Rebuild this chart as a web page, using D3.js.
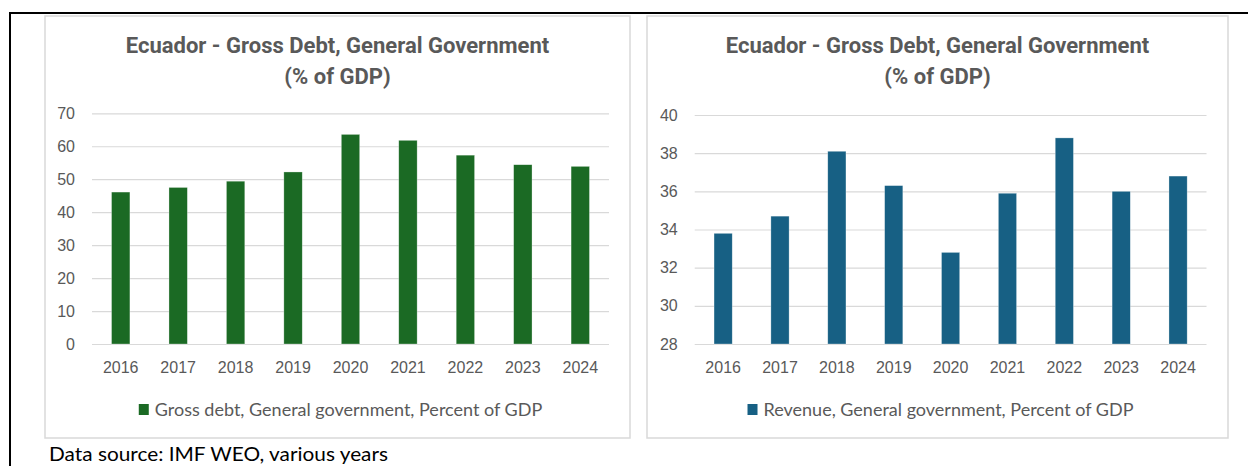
<!DOCTYPE html>
<html>
<head>
<meta charset="utf-8">
<script src="https://cdn.jsdelivr.net/npm/d3@7"></script>
<style>
  body { margin: 0; background: #fff; }
  svg { display: block; }
</style>
</head>
<body>
<svg id="chart" width="1248" height="466"></svg>
<script>
// Categories and series
const years = ["2016", "2017", "2018", "2019", "2020", "2021", "2022", "2023", "2024"];
const grossDebt = [46.1, 47.5, 49.4, 52.2, 63.6, 61.8, 57.3, 54.4, 53.9];
const revenue = [33.8, 34.7, 38.1, 36.3, 32.8, 35.9, 38.8, 36.0, 36.8];

// Axis ticks
const debtTicks = [0, 10, 20, 30, 40, 50, 60, 70];
const revenueTicks = [28, 30, 32, 34, 36, 38, 40];

// Text
const titleLines = ["Ecuador - Gross Debt, General Government", "(% of GDP)"];
const debtLegend = "Gross debt, General government, Percent of GDP";
const revenueLegend = "Revenue, General government, Percent of GDP";
const sourceNote = "Data source: IMF WEO, various years";

const svg = d3.select("#chart");
const textGray = "#595959";
const gridGray = "#d9d9d9";
const tickFont = "'Liberation Sans', Arial, sans-serif";
const titleFont = "Roboto, 'Liberation Sans', sans-serif";
const legendFont = "Lato, 'Open Sans', sans-serif";

// Outer frame (top and left rules)
svg.append("line").attr("x1", 9).attr("x2", 1248).attr("y1", 13).attr("y2", 13)
  .attr("stroke", "#000").attr("stroke-width", 2);
svg.append("line").attr("x1", 10).attr("x2", 10).attr("y1", 12).attr("y2", 466)
  .attr("stroke", "#000").attr("stroke-width", 2);

const panels = [
  { box: [45, 16, 630, 438], plot: [92, 113.3, 609, 344], domain: [0, 70], ticks: debtTicks,
    values: grossDebt, color: "#1b6a24", legend: debtLegend },
  { box: [647, 16, 1228, 438], plot: [694.7, 115, 1206.5, 344], domain: [28, 40], ticks: revenueTicks,
    values: revenue, color: "#176084", legend: revenueLegend }
];

panels.forEach(p => {
  const [bx0, by0, bx1, by1] = p.box;
  const [px0, py0, px1, py1] = p.plot;
  const cx = (bx0 + bx1) / 2;

  // Chart area frame
  svg.append("rect")
    .attr("x", bx0).attr("y", by0).attr("width", bx1 - bx0).attr("height", by1 - by0)
    .attr("fill", "#fff").attr("stroke", gridGray).attr("stroke-width", 1.5);

  const x = d3.scaleBand().domain(years).range([px0, px1]).paddingInner(0.68).paddingOuter(0.34);
  const y = d3.scaleLinear().domain(p.domain).range([py1, py0]);

  // Gridlines
  svg.append("g").attr("transform", `translate(${px0},0)`)
    .call(d3.axisLeft(y).tickValues(p.ticks).tickSize(-(px1 - px0)).tickFormat(""))
    .call(g => g.select(".domain").remove())
    .call(g => g.selectAll("line").attr("stroke", gridGray).attr("stroke-width", 1.2));

  // Y tick labels
  svg.append("g").attr("transform", `translate(${px0},0)`)
    .call(d3.axisLeft(y).tickValues(p.ticks).tickSize(0).tickPadding(17))
    .call(g => g.select(".domain").remove())
    .call(g => g.selectAll("text").attr("fill", textGray).attr("font-size", 16)
      .attr("font-family", tickFont));

  // Bars
  svg.append("g").selectAll("rect").data(p.values).join("rect")
    .attr("x", (d, i) => x(years[i]))
    .attr("width", x.bandwidth())
    .attr("y", d => y(d))
    .attr("height", d => y(p.domain[0]) - y(d))
    .attr("fill", p.color)
    .attr("stroke", "#ffffff").attr("stroke-opacity", 0.5).attr("stroke-width", 0.6);

  // X tick labels
  svg.append("g").attr("transform", `translate(0,${py1})`)
    .call(d3.axisBottom(x).tickSize(0).tickPadding(18))
    .call(g => g.select(".domain").remove())
    .call(g => g.selectAll("text").attr("fill", textGray).attr("font-size", 16)
      .attr("font-family", tickFont));

  // Title
  const title = svg.append("text").attr("text-anchor", "middle")
    .attr("font-family", titleFont).attr("font-weight", 700).attr("font-size", 22)
    .attr("fill", textGray);
  title.append("tspan").attr("x", cx).attr("y", 53).text(titleLines[0]);
  title.append("tspan").attr("x", cx).attr("y", 84).text(titleLines[1]);

  // Legend
  const lg = svg.append("g");
  const sw = 10, gap = 6;
  const lt = lg.append("text").attr("x", sw + gap).attr("y", 416)
    .attr("font-family", legendFont).attr("font-size", 18).attr("fill", textGray)
    .text(p.legend);
  lg.append("rect").attr("x", 0).attr("y", 404).attr("width", sw).attr("height", 11)
    .attr("fill", p.color);
  const w = sw + gap + lt.node().getComputedTextLength();
  lg.attr("transform", `translate(${cx + 3 - w / 2},0)`);
});

// Source note
svg.append("text").attr("x", 49).attr("y", 461)
  .attr("font-family", legendFont).attr("font-size", 19).attr("fill", "#000")
  .attr("textLength", 339).attr("lengthAdjust", "spacingAndGlyphs")
  .text(sourceNote);
</script>
</body>
</html>
